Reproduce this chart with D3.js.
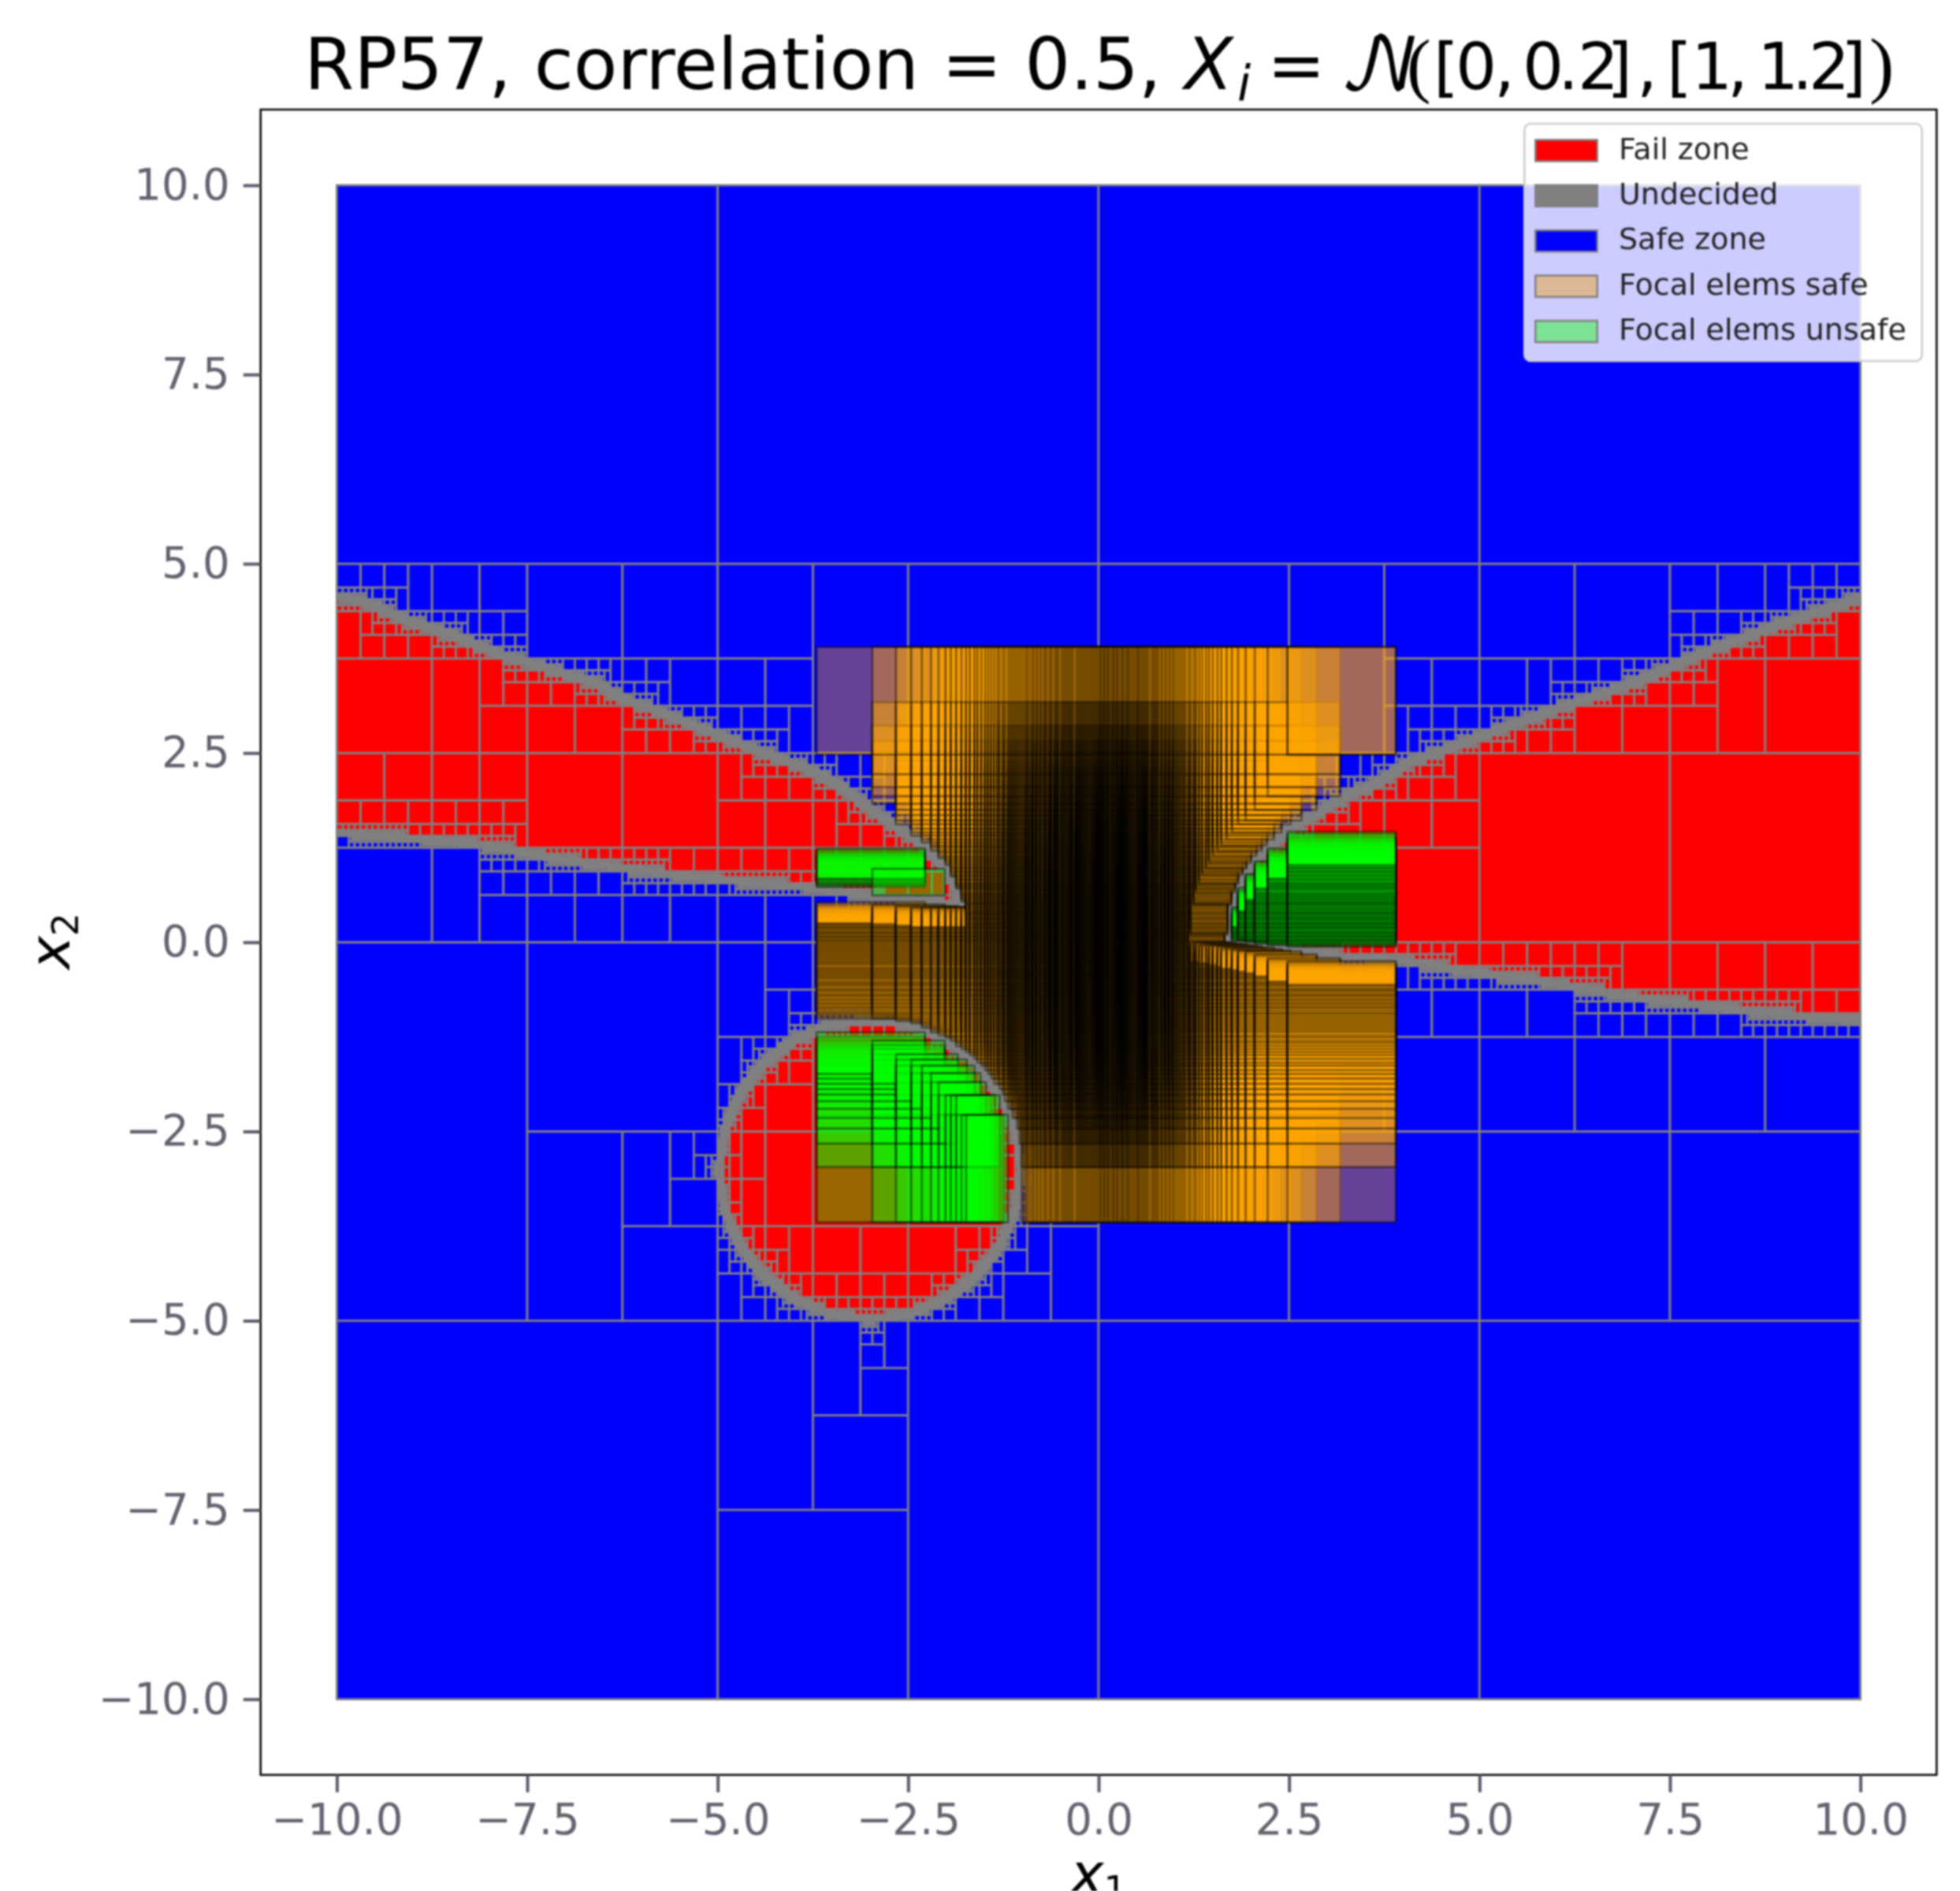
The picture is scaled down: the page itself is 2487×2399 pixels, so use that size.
<!DOCTYPE html>
<html lang="en">
<head>
  <meta charset="UTF-8" />
  <title>RP57 fail and safe zones</title>
  <style>
    body { margin: 0; background: #fff; }
    /* the reference is a soft, resampled image */
    svg { display: block; font-family: "DejaVu Sans", sans-serif; filter: blur(0.8px); }
    .tick line { stroke: #5a5a6a; stroke-width: 4; }
    .tick text { fill: #62626f; font-size: 54.5px; font-family: "DejaVu Sans", sans-serif; }
  </style>
</head>
<body>
  <svg id="chart" width="2487" height="2399" viewBox="0 0 2487 2399" xmlns="http://www.w3.org/2000/svg"></svg>

  <script src="https://d3js.org/d3.v7.min.js"></script>
  <script>
    const width = 2487;
    const height = 2399;

    const xTicks = [-10, -7.5, -5, -2.5, 0, 2.5, 5, 7.5, 10];
    const yTicks = [-10, -7.5, -5, -2.5, 0, 2.5, 5, 7.5, 10];
    const legendLabels = ["Fail zone", "Undecided", "Safe zone", "Focal elems safe", "Focal elems unsafe"];
    const legendColors = ["#ff0000", "#808080", "#0000ff", "#deb894", "#7de196"];

    // zone outlines
    const leftWedge = [[-10.5,4.72],[-9.99,4.57],[-9.64,4.50],[-9.06,4.25],[-8.46,4.05],[-7.90,3.82],[-7.43,3.68],[-6.59,3.42],[-6.21,3.21],[-5.74,3.04],[-5.11,2.79],[-4.48,2.53],[-3.95,2.35],[-3.42,2.09],[-2.89,1.69],[-2.52,1.44],[-2.27,1.27],[-2.02,1.00],[-1.85,0.65],[-1.79,0.48],[-2.04,0.52],[-2.97,0.61],[-3.7,0.72],[-4.21,0.76],[-5.53,0.885],[-6.85,1.06],[-8.17,1.30],[-10,1.45],[-10.5,1.50]];
    const rightWedge = [[1.69,0.02],[1.72,0.40],[1.84,0.78],[1.99,1.02],[2.22,1.27],[2.58,1.55],[2.94,1.75],[3.29,1.96],[3.65,2.10],[4.07,2.38],[4.42,2.50],[5,2.72],[6,3.08],[7,3.42],[8,3.85],[9,4.22],[10,4.55],[10.5,4.72],[10.5,-1.08],[9.41,-1.0],[8.22,-0.87],[7.03,-0.73],[5.73,-0.50],[4.78,-0.38],[3.95,-0.23],[3.18,-0.19],[2.52,-0.09]];
    const lowerDisc = [[-1.02,-3],[-1.087,-2.488],[-1.285,-2.01],[-1.60,-1.60],[-2.01,-1.285],[-2.488,-1.087],[-3,-1.02],[-3.512,-1.087],[-3.99,-1.285],[-4.40,-1.60],[-4.715,-2.01],[-4.913,-2.488],[-4.98,-3],[-4.913,-3.512],[-4.715,-3.99],[-4.40,-4.40],[-3.99,-4.715],[-3.512,-4.913],[-3,-4.98],[-2.488,-4.913],[-2.01,-4.715],[-1.60,-4.40],[-1.285,-3.99],[-1.087,-3.512]];
    const failZones = [leftWedge, rightWedge, lowerDisc];

    // focal element intervals, same levels on both axes
    const focalLow = [-3.70,-2.97,-2.66,-2.46,-2.32,-2.20,-2.10,-2.01,-1.94,-1.87,-1.80,-1.74,-1.69,-1.63,-1.59,-1.54,-1.49,-1.45,-1.41,-1.37,-1.33,-1.30,-1.26,-1.23,-1.19,-1.16,-1.13,-1.10,-1.07,-1.04,-1.01,-0.98,-0.95,-0.93,-0.90,-0.87,-0.85,-0.82,-0.80,-0.77,-0.75,-0.72,-0.70,-0.68,-0.65,-0.63,-0.61,-0.58,-0.56,-0.54,-0.52,-0.49,-0.47,-0.45,-0.43,-0.41,-0.39,-0.37,-0.35,-0.33,-0.30,-0.28,-0.26,-0.24,-0.22,-0.20,-0.18,-0.16,-0.14,-0.12,-0.10,-0.08,-0.06,-0.04,-0.02,0,0.02,0.03,0.05,0.07,0.08,0.10,0.12,0.13,0.15,0.17,0.19,0.20,0.22,0.24,0.25,0.27,0.29,0.31,0.32,0.34,0.36,0.38,0.39,0.41,0.43,0.45,0.47,0.49,0.51,0.52,0.54,0.56,0.58,0.60,0.62,0.64,0.66,0.69,0.71,0.73,0.75,0.77,0.79,0.82,0.84,0.87,0.89,0.92,0.94,0.97,0.99,1.02,1.05,1.08,1.11,1.14,1.18,1.21,1.25,1.28,1.32,1.36,1.41,1.45,1.50,1.56,1.61,1.68,1.75,1.83,1.93,2.05,2.22,2.48];
    const focalHigh = [-2.28,-2.02,-1.85,-1.73,-1.63,-1.55,-1.48,-1.41,-1.36,-1.30,-1.25,-1.19,-1.16,-1.12,-1.08,-1.05,-1.01,-0.98,-0.94,-0.91,-0.88,-0.85,-0.82,-0.79,-0.77,-0.74,-0.72,-0.69,-0.67,-0.64,-0.62,-0.60,-0.57,-0.55,-0.53,-0.51,-0.49,-0.46,-0.44,-0.42,-0.40,-0.38,-0.36,-0.34,-0.32,-0.31,-0.29,-0.27,-0.25,-0.23,-0.21,-0.19,-0.18,-0.16,-0.14,-0.12,-0.11,-0.09,-0.07,-0.05,-0.04,-0.02,0,0.02,0.03,0.05,0.07,0.08,0.10,0.12,0.13,0.15,0.17,0.18,0.20,0.22,0.24,0.26,0.28,0.30,0.32,0.34,0.36,0.38,0.40,0.42,0.44,0.46,0.48,0.50,0.53,0.55,0.57,0.59,0.61,0.63,0.65,0.67,0.69,0.72,0.74,0.76,0.78,0.81,0.83,0.85,0.88,0.90,0.92,0.95,0.97,1.00,1.02,1.05,1.07,1.10,1.13,1.15,1.18,1.21,1.24,1.27,1.30,1.33,1.36,1.39,1.43,1.46,1.50,1.53,1.57,1.61,1.65,1.69,1.74,1.79,1.83,1.89,1.94,2.00,2.07,2.14,2.21,2.30,2.40,2.52,2.66,2.86,3.17,3.90];
    const repeatedFocal = [[149, 149]]; // this one shows two layers in the picture

    const domainBox = [-10, 10, -10, 10];
    const minCell = 0.04;     // cells this small stay undecided
    const cellMargin = 0.025;
    const cellMarginRatio = 0.012;
    const focalMargin = 0.005;

    const x = d3.scaleLinear().domain([-11, 11]).range([330.7, 2457.3]);
    const y = d3.scaleLinear().domain([-11, 11]).range([2251.7, 139]);

    const svg = d3.select("#chart");

    const segments = [];
    failZones.forEach(z => z.forEach((p, i) => segments.push([p, z[(i + 1) % z.length]])));

    // does segment s touch the box, grown by m
    function touches(s, x0, x1, y0, y1, m) {
      const dx = s[1][0] - s[0][0], dy = s[1][1] - s[0][1];
      let t0 = 0, t1 = 1;
      const checks = [[-dx, s[0][0] - (x0 - m)], [dx, (x1 + m) - s[0][0]], [-dy, s[0][1] - (y0 - m)], [dy, (y1 + m) - s[0][1]]];
      for (const [p, q] of checks) {
        if (p === 0) { if (q < 0) return false; continue; }
        const r = q / p;
        if (p < 0) t0 = Math.max(t0, r); else t1 = Math.min(t1, r);
        if (t0 > t1) return false;
      }
      return true;
    }

    const inFail = (px, py) => failZones.some(z => d3.polygonContains(z, [px, py]));

    // bisect the longest side until a box is clear of every outline
    const cells = [];
    function refine(x0, x1, y0, y1, segs) {
      const w = x1 - x0, h = y1 - y0, side = Math.max(w, h);
      const m = Math.max(cellMargin, cellMarginRatio * side);
      const near = segs.filter(s => touches(s, x0, x1, y0, y1, m));
      if (near.length === 0) {
        cells.push({ x0, x1, y0, y1, zone: inFail((x0 + x1) / 2, (y0 + y1) / 2) ? "fail" : "safe" });
      } else if (side <= minCell) {
        cells.push({ x0, x1, y0, y1, zone: "undecided" });
      } else if (w >= h) {
        refine(x0, x0 + w / 2, y0, y1, near);
        refine(x0 + w / 2, x1, y0, y1, near);
      } else {
        refine(x0, x1, y0, y0 + h / 2, near);
        refine(x0, x1, y0 + h / 2, y1, near);
      }
    }
    refine(domainBox[0], domainBox[1], domainBox[2], domainBox[3], segments);

    const focalSafe = [];
    const focalUnsafe = [];
    function placeFocal(i, j) {
      const b = { x0: focalLow[i], x1: focalHigh[i], y0: focalLow[j], y1: focalHigh[j] };
      if (segments.some(s => touches(s, b.x0, b.x1, b.y0, b.y1, focalMargin))) return;
      (inFail((b.x0 + b.x1) / 2, (b.y0 + b.y1) / 2) ? focalUnsafe : focalSafe).push(b);
    }
    focalLow.forEach((_, i) => focalLow.forEach((_, j) => placeFocal(i, j)));
    repeatedFocal.forEach(p => placeFocal(p[0], p[1]));

    const zoneColor = { fail: "#ff0000", safe: "#0000ff", undecided: "#808080" };

    function boxes(g, data) {
      g.selectAll("rect").data(data).join("rect")
        .attr("x", d => x(d.x0))
        .attr("y", d => y(d.y1))
        .attr("width", d => x(d.x1) - x(d.x0))
        .attr("height", d => y(d.y0) - y(d.y1));
    }

    svg.append("g")
      .attr("stroke", "#808080")
      .attr("stroke-width", 2.8)
      .call(boxes, cells)
      .selectAll("rect").attr("fill", d => zoneColor[d.zone]);

    svg.append("g")
      .attr("fill", "#ffa500").attr("fill-opacity", 0.4)
      .attr("stroke", "#000").attr("stroke-opacity", 0.45).attr("stroke-width", 2.6)
      .call(boxes, focalSafe);

    svg.append("g")
      .attr("fill", "#00ff00").attr("fill-opacity", 0.4)
      .attr("stroke", "#000").attr("stroke-opacity", 0.45).attr("stroke-width", 2.6)
      .call(boxes, focalUnsafe);

    // frame and axes
    svg.append("rect")
      .attr("x", x.range()[0]).attr("y", y.range()[1])
      .attr("width", x.range()[1] - x.range()[0])
      .attr("height", y.range()[0] - y.range()[1])
      .attr("fill", "none").attr("stroke", "#000").attr("stroke-width", 2.5);

    const fmt = d3.format(".1f");

    svg.append("g")
      .attr("transform", `translate(0,${y.range()[0]})`)
      .call(d3.axisBottom(x).tickValues(xTicks).tickFormat(fmt).tickSize(22).tickPadding(15))
      .call(g => g.select(".domain").remove());

    svg.append("g")
      .attr("transform", `translate(${x.range()[0]},0)`)
      .call(d3.axisLeft(y).tickValues(yTicks).tickFormat(fmt).tickSize(22).tickPadding(17))
      .call(g => g.select(".domain").remove());

    const xLabel = svg.append("text").attr("x", 1358).attr("y", 2402).attr("font-size", 72);
    xLabel.append("tspan").attr("font-style", "italic").text("x");
    xLabel.append("tspan").attr("font-size", 46).attr("dy", 11).text("1");

    const yLabel = svg.append("text").attr("transform", "translate(88,1230) rotate(-90)").attr("font-size", 72);
    yLabel.append("tspan").attr("font-style", "italic").text("x");
    yLabel.append("tspan").attr("font-size", 46).attr("dy", 11).text("2");

    // title is one text, the math pieces each get their own x because of the spacing
    const title = svg.append("text").attr("y", 113).attr("font-family", "DejaVu Sans");
    function titleBit(txt, px, size, opts) {
      const o = opts || {};
      title.append("tspan").attr("x", px)
        .attr("y", 113 + (o.drop || 0))
        .attr("font-size", size)
        .attr("font-family", o.family || "DejaVu Sans")
        .attr("font-style", o.italic ? "italic" : "normal")
        .text(txt);
    }
    titleBit("RP57, correlation = 0.5,", 386, 91);
    titleBit("X", 1503, 90, { italic: true });
    titleBit("i", 1570, 62, { italic: true, drop: 14 });
    titleBit("=", 1608, 88);
    titleBit("\uD835\uDCA9", 1700, 92, { family: "DejaVu Math TeX Gyre, DejaVu Serif" });
    titleBit("(", 1785, 92, { family: "Liberation Serif" });
    titleBit("[0,0.2],[1,1.2]", "1819 1847 1896 1932 1977 2002 2039 2077 2115 2146 2192 2230 2274 2295 2336", 82);
    titleBit(")", 2372, 94, { family: "Liberation Serif" });

    // legend
    const legend = svg.append("g");
    legend.append("rect")
      .attr("x", 1934.3).attr("y", 157).attr("width", 504.4).attr("height", 301).attr("rx", 8)
      .attr("fill", "#fff").attr("fill-opacity", 0.8)
      .attr("stroke", "#ccc").attr("stroke-width", 2.5);

    const legendRow = d3.scalePoint().domain(legendLabels).range([191, 420.5]);
    legend.selectAll(".swatch").data(legendLabels).join("rect")
      .attr("class", "swatch")
      .attr("x", 1948.3).attr("width", 78.4)
      .attr("y", d => legendRow(d) - 13.5).attr("height", 27)
      .attr("fill", (d, i) => legendColors[i])
      .attr("stroke", "#808080").attr("stroke-width", 2.5);
    legend.selectAll(".entry").data(legendLabels).join("text")
      .attr("class", "entry")
      .attr("x", 2054).attr("y", d => legendRow(d) + 10.5)
      .attr("font-size", 38).attr("fill", "#222")
      .text(d => d);
  </script>
</body>
</html>
